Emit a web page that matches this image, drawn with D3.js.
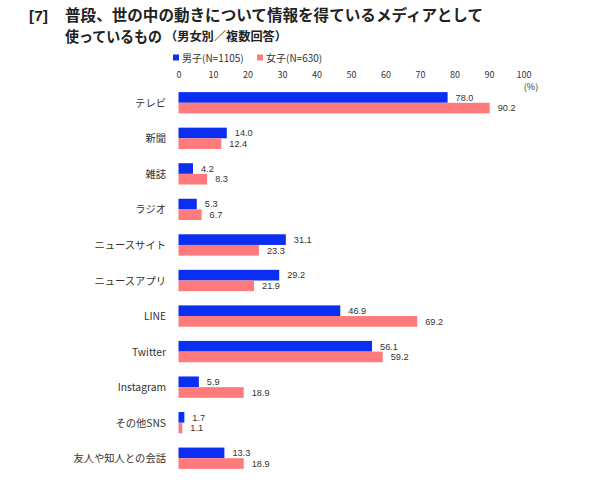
<!DOCTYPE html>
<html><head><meta charset="utf-8">
<script src="https://cdn.jsdelivr.net/npm/d3@7"></script>
<style>body{margin:0;background:#fff;}svg{display:block;font-family:"Noto Sans CJK JP","Noto Sans",sans-serif;}</style>
</head><body><svg id="c" width="590" height="484"></svg>
<script>
const categories = ["テレビ","新聞","雑誌","ラジオ","ニュースサイト","ニュースアプリ","LINE","Twitter","Instagram","その他SNS","友人や知人との会話"];
const male = [78.0,14.0,4.2,5.3,31.1,29.2,46.9,56.1,5.9,1.7,13.3];
const female = [90.2,12.4,8.3,6.7,23.3,21.9,69.2,59.2,18.9,1.1,18.9];
const seriesNames = ["男子(N=1105)","女子(N=630)"];
const tickValues = [0,10,20,30,40,50,60,70,80,90,100];

const svg = d3.select("#c");
const colors = ["#0a2ff2","#ff7b7b"];

// title
svg.append("text").attr("x",29).attr("y",21).attr("font-size",15.5).attr("font-weight","bold").attr("fill","#222")
  .attr("font-family","'Liberation Sans',sans-serif").text("[7]");
svg.append("text").attr("x",65).attr("y",21).attr("font-size",15.5).attr("font-weight","bold").attr("fill","#222")
  .attr("textLength",418).attr("lengthAdjust","spacingAndGlyphs")
  .text("普段、世の中の動きについて情報を得ているメディアとして");
svg.append("text").attr("x",65).attr("y",42).attr("font-size",15).attr("font-weight","bold").attr("fill","#222")
  .attr("textLength",97).attr("lengthAdjust","spacingAndGlyphs").text("使っているもの");
svg.append("text").attr("x",165).attr("y",41).attr("font-size",12).attr("font-weight","bold").attr("fill","#222")
  .attr("textLength",122).attr("lengthAdjust","spacingAndGlyphs").text("（男女別／複数回答）");

const x = d3.scaleLinear().domain([0,100]).range([178.5,523.5]);
const y = d3.scaleBand().domain(categories).range([85,476]).paddingInner(0.4).paddingOuter(0.2);

// legend
const leg = [173,257];
seriesNames.forEach((n,i)=>{
  svg.append("rect").attr("x",leg[i]).attr("y",54.5).attr("width",6).attr("height",6).attr("fill",colors[i]);
  svg.append("text").attr("x",leg[i]+9).attr("y",61.5).attr("font-size",10).attr("fill","#333").text(n);
});

// axis
const ax = svg.append("g").attr("transform","translate(0,77.5)")
  .call(d3.axisTop(x).tickValues(tickValues).tickSize(0).tickPadding(0));
ax.select(".domain").remove();
ax.selectAll("text").attr("font-size",9).attr("fill","#333").attr("font-family","'Noto Sans CJK JP',sans-serif");
svg.append("text").attr("x",531).attr("y",90).attr("text-anchor","middle").attr("font-size",9).attr("fill","#333").text("(%)");

const bh = y.bandwidth()/2;
const data = categories.map((c,i)=>({c,v:[male[i],female[i]]}));
const g = svg.append("g");
data.forEach(d=>{
  d.v.forEach((v,j)=>{
    const yy = y(d.c)+j*bh;
    g.append("rect").attr("x",x(0)).attr("y",yy).attr("width",x(v)-x(0)).attr("height",bh).attr("fill",colors[j]);
    g.append("text").attr("x",x(v)+8).attr("y",yy+bh/2+3.3).attr("font-size",9.2)
      .attr("font-family","'Liberation Sans',sans-serif").attr("fill","#333").text(v.toFixed(1));
  });
  svg.append("text").attr("x",166).attr("y",y(d.c)+bh+4).attr("text-anchor","end").attr("font-size",10.3).attr("fill","#333").text(d.c);
});
</script></body></html>
